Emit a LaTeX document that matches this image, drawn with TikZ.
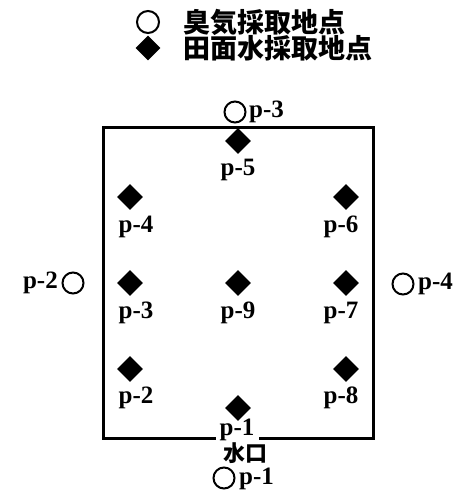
\documentclass[tikz,border=0pt]{standalone}
\usepackage{fontspec}
\setmainfont{Liberation Serif}
\newfontfamily\cjk{Noto Sans CJK JP}
\usetikzlibrary{shapes.geometric}
\begin{document}
\begin{tikzpicture}[x=1pt,y=-1pt,
  samp/.style={diamond,fill=black,inner sep=0pt,minimum size=26pt},
  odor/.style={circle,draw=black,line width=2pt,inner sep=0pt,minimum size=21pt},
  lbl/.style={font=\bfseries\fontsize{25}{25}\selectfont,inner sep=0pt},
  jlbl/.style={font=\cjk\bfseries\fontsize{27}{27}\selectfont,inner sep=0pt},
  edge/.style={line width=3pt}]
\useasboundingbox (0,0) rectangle (467,492);
% legend
\node[odor,minimum size=22pt] (lc) at (148,22) {};
\node[jlbl,anchor=west] (lt1) at (183,22) {臭気採取地点};
\node[samp,minimum size=25pt] (ld) at (148,48) {};
\node[jlbl,anchor=west] (lt2) at (183,48) {田面水採取地点};
% field
\coordinate (tl) at (103,127);
\coordinate (tr) at (373,127);
\coordinate (br) at (373,438);
\coordinate (bl) at (103,438);
\coordinate (g1) at (214,438);
\coordinate (g2) at (260,438);
\draw[edge,line cap=rect] (g1) -- (bl) -- (tl) -- (tr) -- (br) -- (g2);
% sampling points
\node[samp] (d5) at (238,141) {};
\node[lbl] (l5) at (238,170) {p-5};
\node[samp] (d4) at (130,197) {};
\node[lbl] (l4) at (136,227) {p-4};
\node[samp] (d6) at (346,197) {};
\node[lbl] (l6) at (341,227) {p-6};
\node[samp] (d3) at (130,283) {};
\node[lbl] (l3) at (136,313) {p-3};
\node[samp] (d9) at (238,283) {};
\node[lbl] (l9) at (238,313) {p-9};
\node[samp] (d7) at (346,283) {};
\node[lbl] (l7) at (341,313) {p-7};
\node[samp] (d2) at (130,369) {};
\node[lbl] (l2) at (136,398) {p-2};
\node[samp] (d8) at (346,369) {};
\node[lbl] (l8) at (341,398) {p-8};
\node[samp] (d1) at (238,408) {};
\node[lbl] (l1) at (237,430) {p-1};
\node[jlbl,font=\cjk\bfseries\fontsize{22}{22}\selectfont] (inlet) at (245,453) {水口};
% odor points
\node[odor] (c3) at (235,112) {};
\node[lbl,anchor=west] (t3) at (249,112) {p-3};
\node[odor] (c2) at (73,283) {};
\node[lbl,anchor=east] (t2) at (58,283) {p-2};
\node[odor] (c4) at (403,284) {};
\node[lbl,anchor=west] (t4) at (418,284) {p-4};
\node[odor] (c1) at (224,478) {};
\node[lbl,anchor=west] (t1) at (239,479) {p-1};
\end{tikzpicture}
\end{document}
